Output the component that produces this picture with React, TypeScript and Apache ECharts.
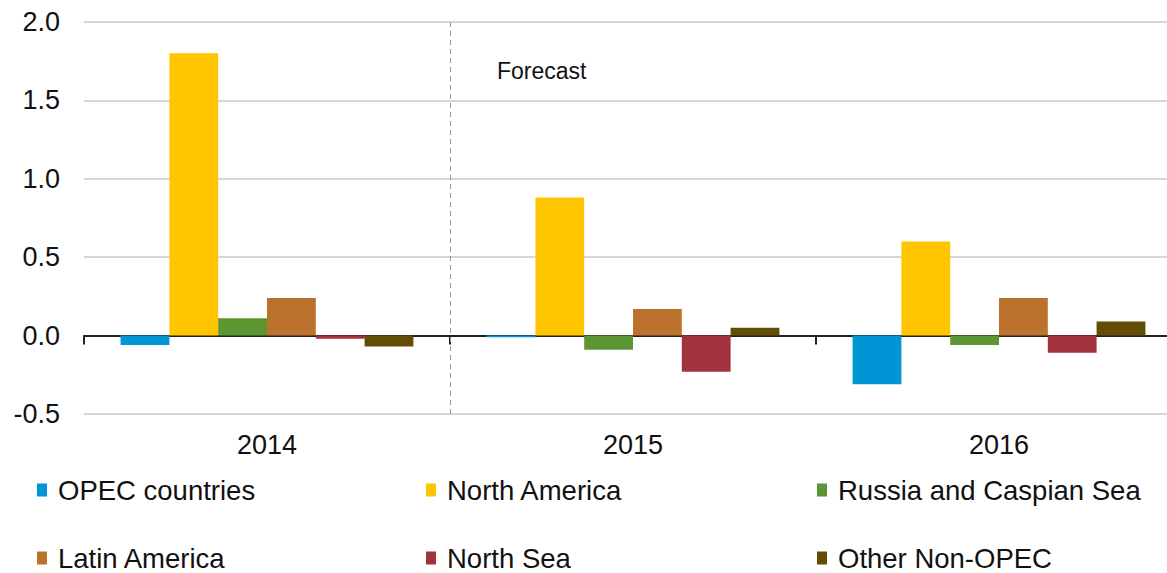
import React, { useEffect, useRef } from "react";
import * as echarts from "echarts";

const years = ["2014", "2015", "2016"];
const seriesNames = [
  "OPEC countries",
  "North America",
  "Russia and Caspian Sea",
  "Latin America",
  "North Sea",
  "Other Non-OPEC",
];
const opec = [-0.06, -0.01, -0.31];
const northAmerica = [1.8, 0.88, 0.6];
const russiaCaspian = [0.11, -0.09, -0.06];
const latinAmerica = [0.24, 0.17, 0.24];
const northSea = [-0.02, -0.23, -0.11];
const otherNonOpec = [-0.07, 0.05, 0.09];
const seriesValues = [opec, northAmerica, russiaCaspian, latinAmerica, northSea, otherNonOpec];
const colors = ["#0096D6", "#FFC600", "#5B9632", "#BB722C", "#A3323F", "#634D05"];
const forecastStart = 1; // boundary between 2014 and 2015
const forecastLabel = "Forecast";

const FONT = "'Liberation Sans', Arial, sans-serif";

export default function App() {
  const ref = useRef<HTMLDivElement>(null);
  useEffect(() => {
    if (!ref.current) return;
    const chart = echarts.init(ref.current, undefined, { renderer: "svg" });
    const legendCols = [37, 426, 817];
    const legendRows = [476, 544];
    const legends = seriesNames.map((name, i) => ({
      data: [name],
      left: legendCols[i % 3],
      top: legendRows[Math.floor(i / 3)],
      padding: 0,
      icon: "rect",
      itemWidth: 10,
      itemHeight: 13,
      selectedMode: false,
      textStyle: {
        fontFamily: FONT,
        fontSize: 27.5,
        color: "#111111",
        padding: [0, 0, 0, 6],
      },
    }));
    const barSeries = seriesNames.map((name, i) => ({
      name,
      type: "bar",
      xAxisIndex: 0,
      yAxisIndex: 0,
      data: seriesValues[i],
      barGap: "0%",
      barCategoryGap: "20%",
      itemStyle: { color: colors[i] },
    }));
    chart.setOption({
      animation: false,
      backgroundColor: "#ffffff",
      title: {
        text: forecastLabel,
        left: 497,
        top: 59,
        padding: 0,
        textStyle: { fontFamily: FONT, fontSize: 23, fontWeight: "normal", color: "#111111" },
      },
      legend: legends,
      grid: {
        left: 84,
        top: 22,
        width: 1098,
        bottom: 159,
        containLabel: false,
        outerBoundsMode: "none",
      },
      xAxis: [
        {
          type: "category",
          data: years,
          position: "bottom",
          axisLine: { show: false, onZero: false },
          axisTick: { show: false },
          axisLabel: { fontFamily: FONT, fontSize: 27, color: "#111111", margin: 17 },
          splitLine: { show: false },
        },
        {
          type: "category",
          data: years,
          position: "top",
          axisLine: { show: true, onZero: true, lineStyle: { color: "#222222", width: 2 } },
          axisTick: { show: true, inside: true, length: 9, lineStyle: { color: "#222222", width: 2 } },
          axisLabel: { show: false },
          splitLine: { show: false },
        },
        {
          type: "value",
          min: 0,
          max: years.length,
          show: false,
        },
      ],
      yAxis: {
        type: "value",
        min: -0.5,
        max: 2.0,
        interval: 0.5,
        axisLine: { show: false },
        axisTick: { show: false },
        axisLabel: {
          fontFamily: FONT,
          fontSize: 27,
          color: "#111111",
          margin: 24,
          formatter: (v: number) => v.toFixed(1),
        },
        splitLine: { lineStyle: { color: "#c8c8c8", width: 1.5 } },
      },
      series: [
        ...barSeries,
        {
          name: "divider",
          type: "line",
          xAxisIndex: 2,
          yAxisIndex: 0,
          data: [],
          markLine: {
            silent: true,
            symbol: "none",
            label: { show: false },
            lineStyle: { color: "#999999", type: [5, 4], width: 1 },
            data: [{ xAxis: forecastStart }],
          },
        },
      ],
    });
    return () => chart.dispose();
  }, []);
  return (
    <div
      ref={ref}
      style={{ position: "fixed", left: 0, top: 0, width: 1167, height: 573, background: "#fff" }}
    />
  );
}
